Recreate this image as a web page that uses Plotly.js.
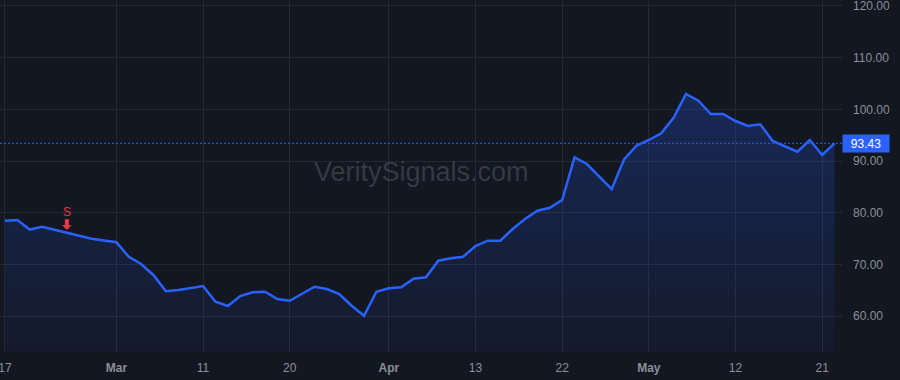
<!DOCTYPE html>
<html>
<head>
<meta charset="utf-8">
<script src="https://cdn.plot.ly/plotly-3.0.1.min.js"></script>
<style>
  html, body { margin: 0; padding: 0; background: #131722; }
  #chart { width: 900px; height: 380px; }
</style>
</head>
<body>
<div id="chart"></div>
<script>
// Daily closing prices, Feb 17 → May 22 (one point per session)
const prices = [
  78.45, 78.60, 76.74, 77.29, 76.70, 76.12, 75.50, 74.95, 74.60, 74.30,
  71.48, 70.07, 67.90, 64.80, 65.04, 65.36, 65.81, 62.77, 61.94, 63.87,
  64.59, 64.71, 63.29, 62.96, 64.32, 65.67, 65.23, 64.26, 62.00, 60.06,
  64.71, 65.36, 65.56, 67.22, 67.49, 70.71, 71.17, 71.48, 73.55, 74.58,
  74.58, 76.84, 78.78, 80.38, 80.96, 82.45, 90.72, 89.42, 86.96, 84.58,
  90.33, 92.96, 94.07, 95.36, 98.38, 102.97, 101.67, 99.10, 99.10, 97.74,
  96.78, 97.10, 93.87, 92.85, 91.80, 94.07, 91.16, 93.43
];

// x-axis labels and the session index where each one falls
const tickLabels = ['17', 'Mar', '11', '20', 'Apr', '13', '22', 'May', '12', '21'];
const tickSessions = [0, 9, 16, 23, 31, 38, 45, 52, 59, 66];
const monthLabels = ['Mar', 'Apr', 'May'];

// sell signal
const signalSession = 5;
const signalText = 'S';

const watermark = 'VeritySignals.com';

const sessions = prices.map((_, i) => i);
const lastPrice = prices[prices.length - 1];

const BG = '#131722';
const GRID = '#242833';
const TEXT = '#8b8f99';
const BLUE = '#2962ff';
const RED = '#f23645';
const FONT = '"Liberation Sans", Arial, sans-serif';

const trace = {
  type: 'scatter',
  mode: 'lines',
  x: sessions,
  y: prices,
  line: { color: BLUE, width: 2.5 },
  fill: 'tozeroy',
  fillgradient: {
    type: 'vertical',
    colorscale: [[0, 'rgba(41,98,255,0.04)'], [1, 'rgba(41,98,255,0.24)']],
    start: 53,
    stop: 103
  },
  hoverinfo: 'skip'
};

const layout = {
  width: 900,
  height: 380,
  paper_bgcolor: BG,
  plot_bgcolor: BG,
  margin: { l: 0, r: 58, t: 0, b: 28 },
  showlegend: false,
  font: { family: FONT, color: TEXT, size: 12 },
  xaxis: {
    range: [-0.4, 67.6],
    tickmode: 'array',
    tickvals: tickSessions,
    ticktext: tickLabels.map(t => monthLabels.includes(t) ? '<b>' + t + '</b>' : t),
    showgrid: true,
    gridcolor: GRID,
    gridwidth: 1,
    zeroline: false,
    showline: false,
    ticks: '',
    ticklabelstandoff: 7,
    ticklabeloverflow: 'allow',
    tickfont: { family: FONT, size: 12, color: TEXT },
    fixedrange: true
  },
  yaxis: {
    side: 'right',
    range: [53.04, 121.16],
    tick0: 0,
    dtick: 10,
    tickformat: '.2f',
    showgrid: true,
    gridcolor: GRID,
    gridwidth: 1,
    zeroline: false,
    showline: false,
    ticks: '',
    ticklabelstandoff: 10,
    ticklabeloverflow: 'allow',
    tickfont: { family: FONT, size: 12, color: TEXT },
    fixedrange: true
  },
  shapes: [{
    type: 'line',
    xref: 'paper', x0: 0, x1: 1,
    yref: 'y', y0: lastPrice, y1: lastPrice,
    line: { color: BLUE, width: 1, dash: '2px,2px' }
  }],
  annotations: [
    {
      xref: 'paper', yref: 'paper', x: 0.5, y: 0.5,
      xanchor: 'center', yanchor: 'middle',
      yshift: 4,
      text: watermark,
      showarrow: false,
      font: { family: FONT, size: 27, color: 'rgba(120,123,134,0.35)' }
    },
    {
      xref: 'paper', x: 1, xanchor: 'left',
      yref: 'y', y: lastPrice, yanchor: 'middle',
      text: lastPrice.toFixed(2),
      showarrow: false,
      bgcolor: BLUE,
      borderpad: 2,
      width: 42,
      height: 13,
      align: 'center',
      font: { family: FONT, size: 12, color: '#ffffff' }
    },
    {
      x: signalSession, y: prices[signalSession],
      xref: 'x', yref: 'y',
      text: signalText,
      font: { family: FONT, size: 12, color: RED },
      showarrow: true,
      arrowhead: 1,
      arrowsize: 0.4,
      arrowwidth: 4,
      arrowcolor: RED,
      ax: 0, ay: -21,
      standoff: 3,
      borderpad: 0
    }
  ]
};

Plotly.newPlot('chart', [trace], layout, { displayModeBar: false, staticPlot: true });
</script>
</body>
</html>
